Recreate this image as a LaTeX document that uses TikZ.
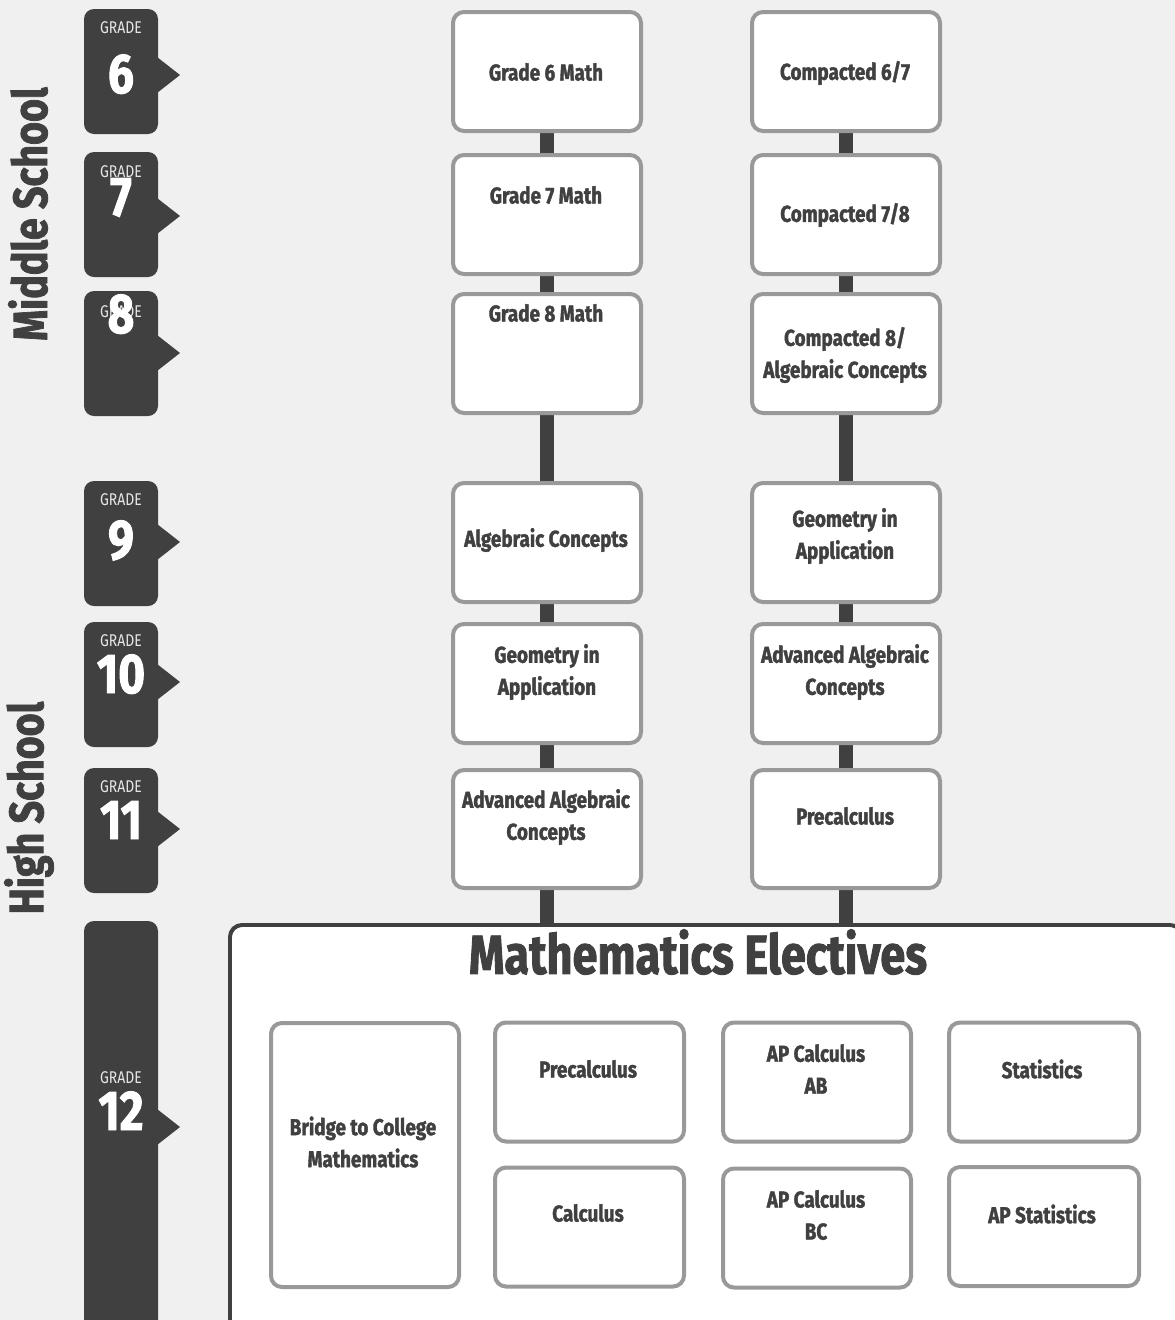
\documentclass[tikz,border=0pt]{standalone}
\usepackage{fontspec}
\setmainfont{Fira Sans}[FakeStretch=0.82, BoldFeatures={FakeBold=1.6}]
\definecolor{bg}{HTML}{F0F0F0}
\definecolor{dark}{HTML}{404040}
\definecolor{edge}{HTML}{999999}
\definecolor{pale}{HTML}{E6E6E6}
\begin{document}
\begin{tikzpicture}[x=1pt,y=-1pt,
  box/.style={draw=edge, line width=4pt, fill=white, rounded corners=11pt, minimum width=188pt, minimum height=119pt, inner sep=0pt},
  tallbox/.style={box, minimum height=264pt},
  txt/.style={font=\bfseries\fontsize{23}{32}\selectfont, text=dark, align=center, inner sep=0pt},
  link/.style={draw=dark, line width=14pt},
  tabfill/.style={fill=dark, rounded corners=10pt},
  gradetxt/.style={font=\fontsize{17}{18}\selectfont, text=pale, inner sep=0pt, anchor=base},
  numtxt/.style={font=\bfseries\fontsize{56}{56}\selectfont, text=white, inner sep=0pt, anchor=base},
  sidetxt/.style={font=\bfseries\fontsize{48}{48}\selectfont, text=dark, rotate=90, inner sep=0pt},
  elbox/.style={draw=dark, line width=4pt, fill=white, rounded corners=12pt, inner sep=0pt},
  title/.style={font=\bfseries\fontsize{55}{55}\selectfont, text=dark, inner sep=0pt}
]
\fill[bg] (0,0) rectangle (1175,1320);
\useasboundingbox (0,0) rectangle (1175,1320);
\clip (0,0) rectangle (1175,1320);

% side labels
\node[sidetxt] (ms) at (28,214) {Middle School};
\node[sidetxt] (hs) at (29,808) {High School};

% grade tabs
\newcommand{\gradetab}[3]{%
  \fill[tabfill] (84,#1) rectangle (158,#2);
  \fill[dark] (157,#3-18) -- (180,#3) -- (157,#3+18) -- cycle;}
\gradetab{9}{134}{75}
\gradetab{152}{277}{216}
\gradetab{291}{416}{353}
\gradetab{481}{606}{542}
\gradetab{622}{747}{682}
\gradetab{768}{893}{829}
\gradetab{921}{1340}{1127}

\node[gradetxt] (gr6) at (121,33) {GRADE};
\node[numtxt] (n6) at (121,93) {6};
\node[gradetxt] (gr7) at (121,177) {GRADE};
\node[numtxt] (n7) at (121,216) {7};
\node[gradetxt] (gr8) at (121,317) {GRADE};
\node[numtxt] (n8) at (121,333) {8};
\node[gradetxt] (gr9) at (121,505) {GRADE};
\node[numtxt] (n9) at (121,559) {9};
\node[gradetxt] (gr10) at (121,646) {GRADE};
\node[numtxt] (n10) at (121,693) {10};
\node[gradetxt] (gr11) at (121,792) {GRADE};
\node[numtxt] (n11) at (121,839) {11};
\node[gradetxt] (gr12) at (121,1083) {GRADE};
\node[numtxt] (n12) at (121,1130) {12};

% course boxes (positions)
\coordinate (a1) at (547,71.5);
\coordinate (a2) at (547,214.5);
\coordinate (a3) at (547,353.5);
\coordinate (a4) at (547,542.5);
\coordinate (a5) at (547,683.5);
\coordinate (a6) at (547,829);
\coordinate (b1) at (846,71.5);
\coordinate (b2) at (846,214.5);
\coordinate (b3) at (846,353.5);
\coordinate (b4) at (846,542.5);
\coordinate (b5) at (846,683.5);
\coordinate (b6) at (846,829);

% electives frame
\node[elbox, minimum width=952pt, minimum height=410pt] (el) at (706,1130) {};

% links
\draw[link] (a1) -- (a6);
\draw[link] (b1) -- (b6);
\draw[link] (a6) -- (a6 |- el.north);
\draw[link] (b6) -- (b6 |- el.north);
\node[elbox, draw=none, minimum width=948pt, minimum height=406pt] at (706,1130) {};

% column 1
\node[box] (g6) at (a1) {};
\node[box] (g7) at (a2) {};
\node[box] (g8) at (a3) {};
\node[box] (alg) at (a4) {};
\node[box] (geo) at (a5) {};
\node[box, minimum height=118pt] (adv) at (a6) {};
\node[txt] at (546,72) {Grade 6 Math};
\node[txt] at (546,195) {Grade 7 Math};
\node[txt] at (546,313) {Grade 8 Math};
\node[txt] at (546,540) {Algebraic Concepts};
\node[txt] at (547,672) {Geometry in\\Application};
\node[txt] at (546,817) {Advanced Algebraic\\Concepts};

% column 2
\node[box] (c67) at (b1) {};
\node[box] (c78) at (b2) {};
\node[box] (c8) at (b3) {};
\node[box] (geo2) at (b4) {};
\node[box] (adv2) at (b5) {};
\node[box, minimum height=118pt] (pre2) at (b6) {};
\node[txt] at (845,73) {Compacted 6/7};
\node[txt] at (845,215) {Compacted 7/8};
\node[txt] at (845,355) {Compacted 8/\\Algebraic Concepts};
\node[txt] at (845,536) {Geometry in\\Application};
\node[txt] at (845,672) {Advanced Algebraic\\Concepts};
\node[txt] at (845,816) {Precalculus};

% electives
\node[title] (tt) at (698,952) {Mathematics Electives};
\node[tallbox] (bridge) at (365,1155) {};
\node[box, minimum width=189pt] (pre) at (589.5,1082) {};
\node[box, minimum width=189pt] (calc) at (589.5,1227) {};
\node[box] (ab) at (817,1082) {};
\node[box] (bc) at (817,1228) {};
\node[box, minimum width=190pt] (stat) at (1044,1082) {};
\node[box, minimum width=190pt] (apstat) at (1044,1226.5) {};
\node[txt] at (363,1142) {Bridge to College\\Mathematics};
\node[txt] at (588,1069) {Precalculus};
\node[txt] at (588,1213) {Calculus};
\node[txt] at (816,1069) {AP Calculus\\AB};
\node[txt] at (816,1215) {AP Calculus\\BC};
\node[txt] at (1042,1069) {Statistics};
\node[txt] at (1042,1214) {AP Statistics};
\end{tikzpicture}
\end{document}
